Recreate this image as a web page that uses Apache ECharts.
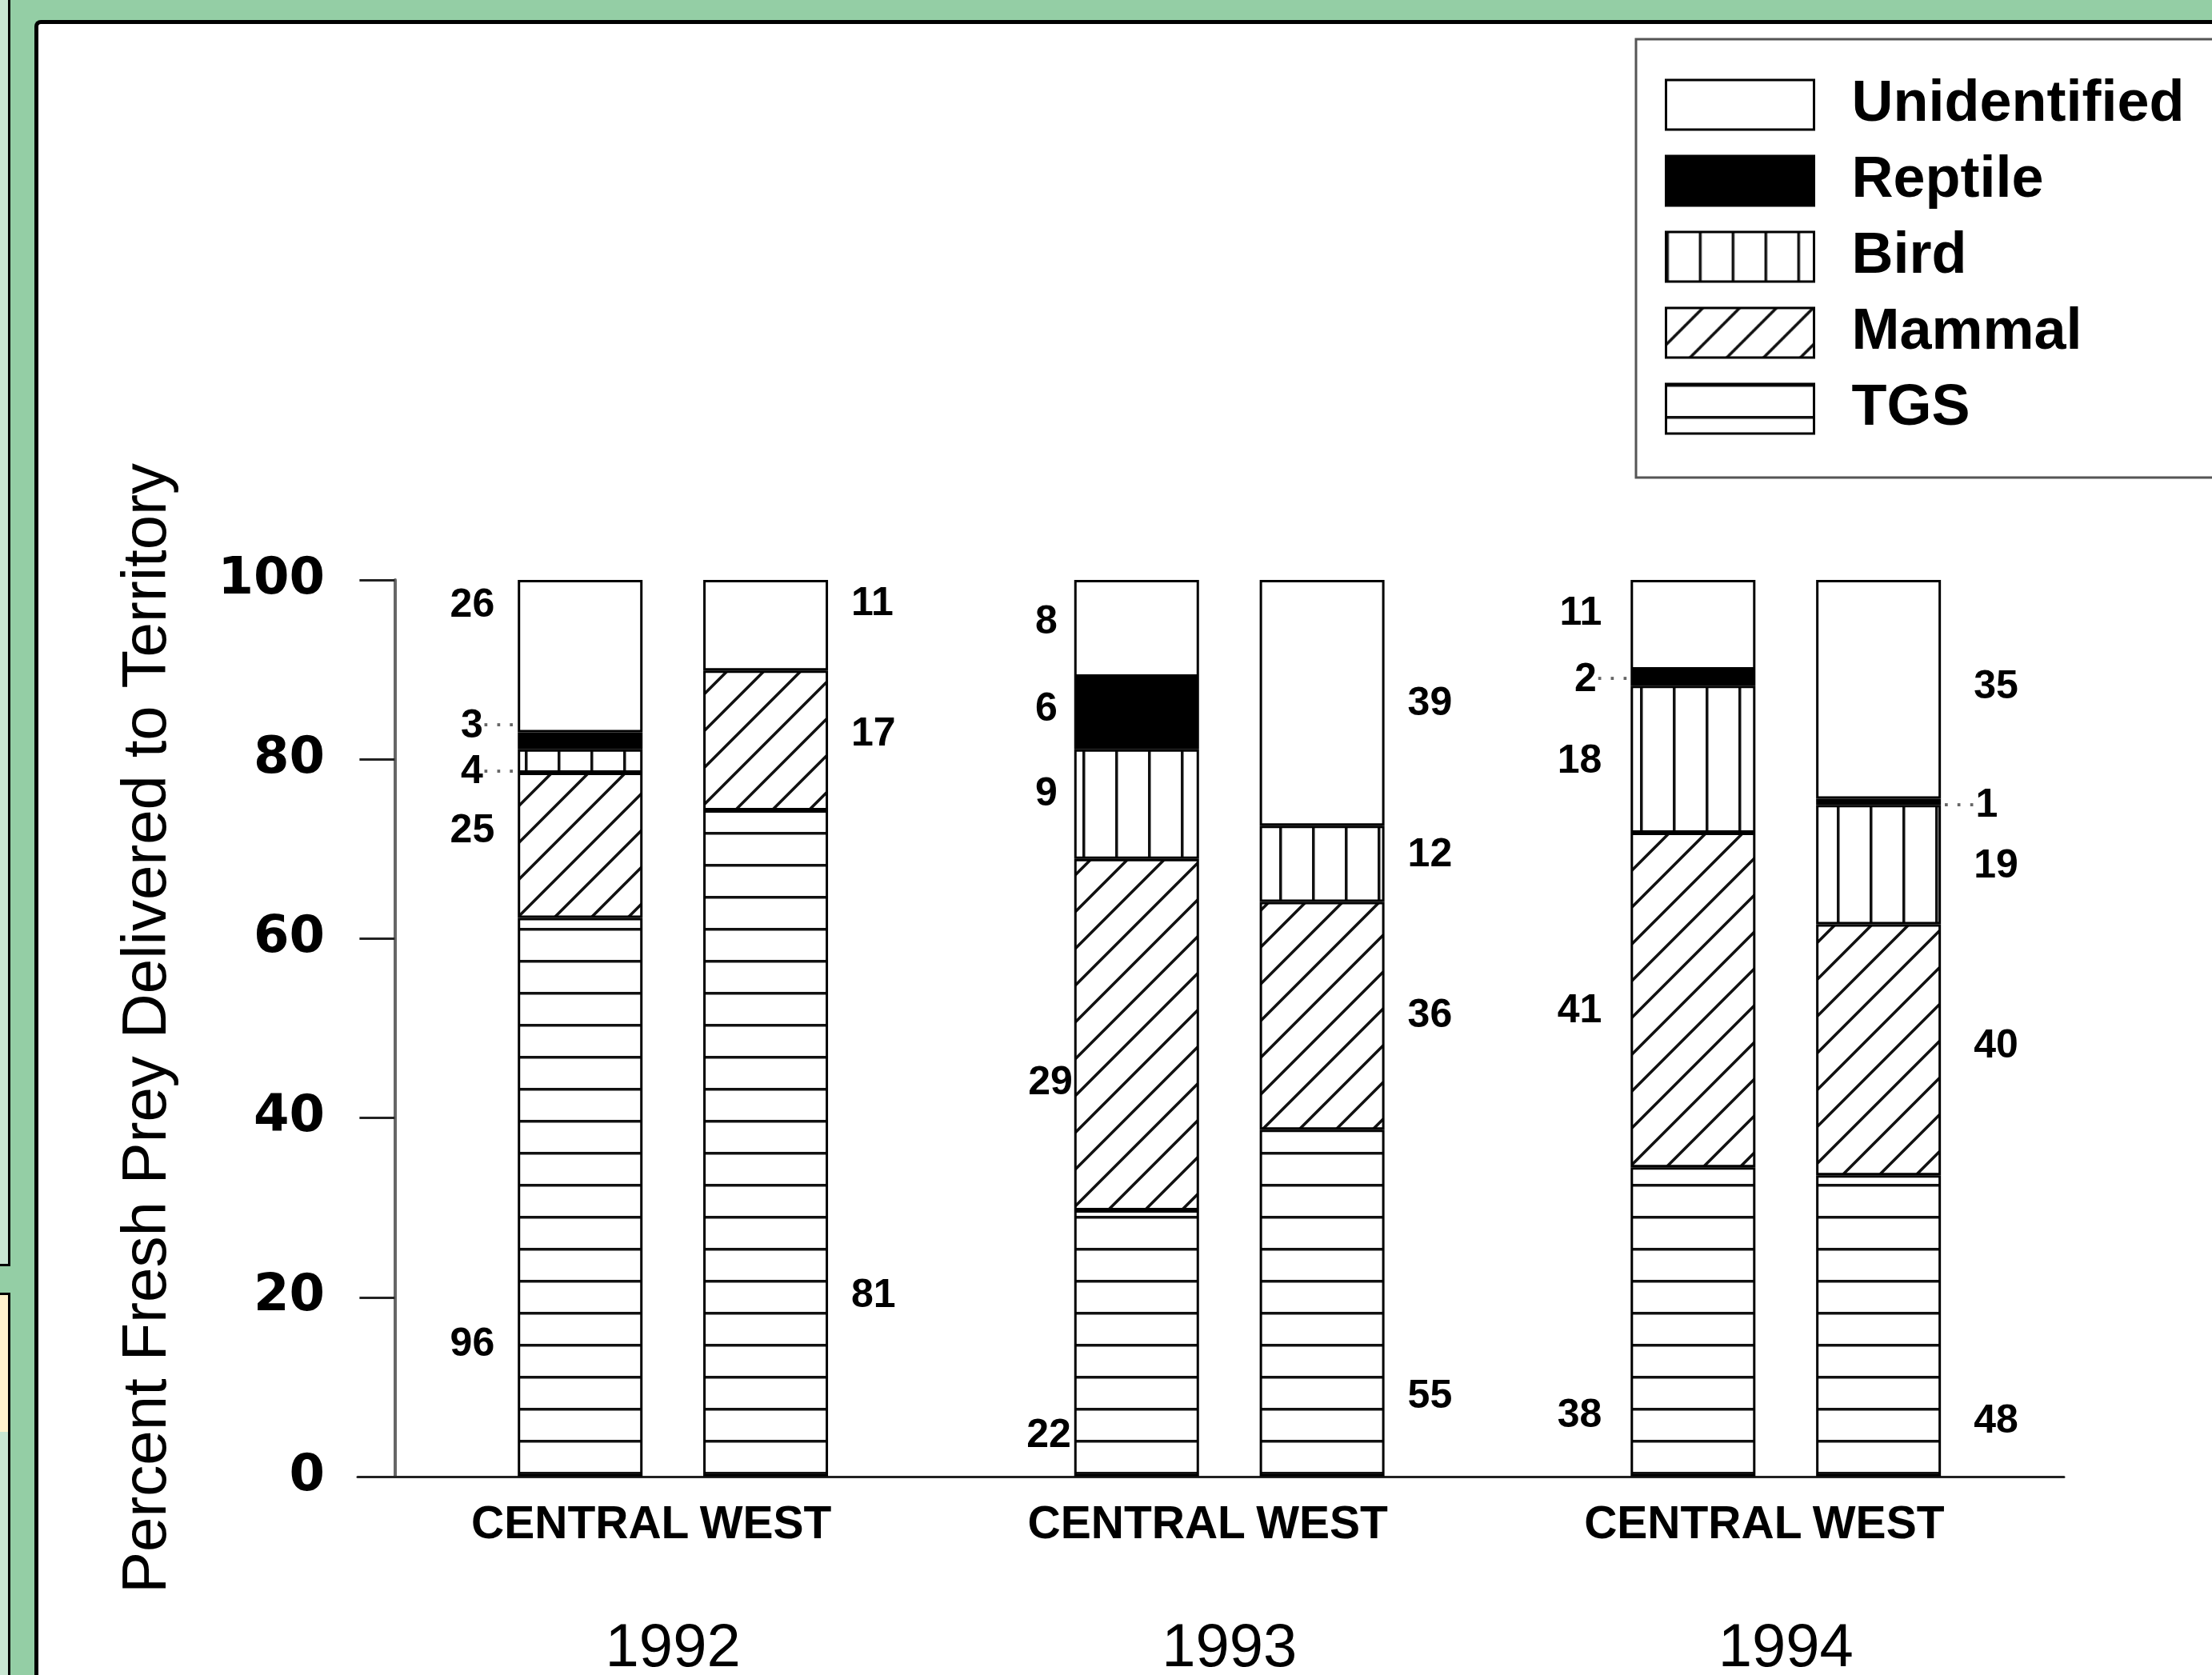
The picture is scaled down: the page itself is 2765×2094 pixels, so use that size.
<!DOCTYPE html>
<html>
<head>
<meta charset="utf-8">
<script src="https://cdn.jsdelivr.net/npm/echarts@6/dist/echarts.min.js"></script>
<style>
html,body{margin:0;padding:0;width:2765px;height:2094px;overflow:hidden;background:#94cea5;}
#lp1{position:absolute;left:0;top:0;width:10px;height:1580px;background:#c8e6d2;border-right:3px solid #000;border-bottom:3px solid #000;}
#yb{position:absolute;left:0;top:1616px;width:10px;height:171px;background:#fff2cc;border:3px solid #000;border-left:none;}
#lp2{position:absolute;left:0;top:1790px;width:10px;height:304px;background:#c8e6d2;border-right:3px solid #000;}
#panel{position:absolute;left:43px;top:25px;right:0;bottom:0;background:#fff;border-top:5px solid #000;border-left:5px solid #000;border-top-left-radius:8px;}
#chart{position:absolute;left:0;top:0;width:2765px;height:2094px;}
</style>
</head>
<body>
<div id="lp1"></div><div id="yb"></div><div id="lp2"></div>
<div id="panel"></div>
<div id="chart"></div>
<script>
// ---------- data ----------
const years = ['1992', '1993', '1994'];
const sites = ['CENTRAL', 'WEST'];
const preyTypes = ['TGS', 'Mammal', 'Bird', 'Reptile', 'Unidentified']; // stack order, bottom -> top
const legendOrder = ['Unidentified', 'Reptile', 'Bird', 'Mammal', 'TGS'];
const yTicks = [0, 20, 40, 60, 80, 100];
const yAxisTitle = 'Percent Fresh Prey Delivered to Territory';

// percent of fresh prey, bars in order: 1992 C, 1992 W, 1993 C, 1993 W, 1994 C, 1994 W
const pctTGS          = [62.3, 74.3, 29.7, 38.7, 34.5, 33.6];
const pctMammal       = [16.2, 15.6, 39.2, 25.4, 37.3, 28.0];
const pctBird         = [2.6, null, 12.2, 8.5, 16.4, 13.3];
const pctReptile      = [1.9, null, 8.1, null, 1.8, 0.7];
const pctUnidentified = [17.0, 10.1, 10.8, 27.4, 10.0, 24.4];

// number of prey items (printed beside the bars)
const nTGS          = [96, 81, 22, 55, 38, 48];
const nMammal       = [25, 17, 29, 36, 41, 40];
const nBird         = [4, null, 9, 12, 18, 19];
const nReptile      = [3, null, 6, null, 2, 1];
const nUnidentified = [26, 11, 8, 39, 11, 35];

// ---------- styling (not data) ----------
const FONT = "'Liberation Sans', Arial, sans-serif";
const labelShift = {
  TGS:          [[0,184],[0,191],[25,116],[0,117],[-7,118],[12,120]],
  Mammal:       [[0,-18],[0,-7],[27,61],[0,0],[-7,14],[12,-4]],
  Bird:         [[26,14],[0,0],[8,-12],[0,-11],[-7,3],[12,2]],
  Reptile:      [[26,-18],[0,0],[8,-4],[0,0],[27,3],[-26,5]],
  Unidentified: [[0,-63],[0,-26],[8,-7],[0,2],[-7,-14],[12,-3]]
};
const leaderDots = {
  Bird:    [true, false, false, false, false, false],
  Reptile: [true, false, false, false, true, true]
};

function makePattern(kind) {
  const c = document.createElement('canvas');
  const ctx = c.getContext('2d');
  if (kind === 'h') {
    c.width = 20; c.height = 40;
    ctx.fillStyle = '#fff'; ctx.fillRect(0, 0, 20, 40);
    ctx.fillStyle = '#111'; ctx.fillRect(0, 0, 20, 3.5);
  } else if (kind === 'v') {
    c.width = 41; c.height = 20;
    ctx.fillStyle = '#fff'; ctx.fillRect(0, 0, 41, 20);
    ctx.fillStyle = '#111'; ctx.fillRect(0, 0, 3.5, 20);
  } else {
    const s = 46;
    c.width = s; c.height = s;
    ctx.fillStyle = '#fff'; ctx.fillRect(0, 0, s, s);
    ctx.strokeStyle = '#111'; ctx.lineWidth = 3.6;
    ctx.beginPath();
    ctx.moveTo(0, s); ctx.lineTo(s, 0);
    ctx.moveTo(-3, 3); ctx.lineTo(3, -3);
    ctx.moveTo(s - 3, s + 3); ctx.lineTo(s + 3, s - 3);
    ctx.stroke();
  }
  return { image: c, repeat: 'repeat' };
}

const pct = { TGS: pctTGS, Mammal: pctMammal, Bird: pctBird, Reptile: pctReptile, Unidentified: pctUnidentified };
const cnt = { TGS: nTGS, Mammal: nMammal, Bird: nBird, Reptile: nReptile, Unidentified: nUnidentified };
const fills = { TGS: makePattern('h'), Mammal: makePattern('d'), Bird: makePattern('v'), Reptile: '#000', Unidentified: '#fff' };

// bar slot on the x axis: year i, site j -> 3*i + j + 1 (blank slot between years)
const barPos = [];
years.forEach((y, i) => sites.forEach((s, j) => barPos.push(3 * i + j + 1)));
const yearPos = years.map((y, i) => 3 * i + 1.5);

const series = preyTypes.map(name => ({
  name: name,
  type: 'bar',
  stack: 'total',
  barWidth: 156,
  encode: { x: 1, y: 0 },
  itemStyle: { color: fills[name], borderColor: '#000', borderWidth: 3 },
  emphasis: { disabled: true },
  label: {
    rich: {
      n: { fontSize: 50, fontWeight: 'bold', fontFamily: FONT, color: '#000' },
      d: { fontSize: 26, fontWeight: 'bold', fontFamily: FONT, color: '#666' }
    }
  },
  data: pct[name].map((v, k) => {
    const j = k % 2;
    const n = cnt[name][k];
    const dots = leaderDots[name] && leaderDots[name][k];
    let fmt = '{n|' + n + '}';
    if (dots) fmt = j === 0 ? '{n|' + n + '}{d|· · ·}' : '{d|· · ·}{n|' + n + '}';
    return {
      value: [v == null ? '-' : v, barPos[k]],
      label: {
        show: n != null,
        position: j === 0 ? 'left' : 'right',
        distance: 29,
        offset: labelShift[name][k],
        formatter: fmt
      }
    };
  })
}));

const chart = echarts.init(document.getElementById('chart'), null, { renderer: 'canvas' });
chart.setOption({
  animation: false,
  backgroundColor: 'transparent',
  grid: { left: 447, right: 185, top: 725, bottom: 248, containLabel: false, outerBoundsMode: 'none' },
  legend: {
    orient: 'vertical',
    left: 2045, top: 49,
    padding: [46, 100, 50, 36],
    borderColor: '#555', borderWidth: 3,
    selectedMode: false,
    icon: 'rect',
    itemWidth: 185, itemHeight: 62, itemGap: 23,
    itemStyle: { borderColor: '#000', borderWidth: 3 },
    textStyle: { fontSize: 72, fontWeight: 'bold', fontFamily: FONT, color: '#000', padding: [0, 0, 0, 42] },
    data: legendOrder
  },
  xAxis: [{
    type: 'value', min: -0.2, max: 9,
    axisLine: { show: true, onZero: true, lineStyle: { color: '#222', width: 3 } },
    axisTick: { show: false },
    splitLine: { show: false },
    axisLabel: {
      customValues: barPos,
      formatter: v => sites[Math.round(v - 1) % 3],
      margin: 33, fontSize: 57, fontWeight: 'bold', fontFamily: FONT, color: '#000'
    }
  }, {
    type: 'value', min: -0.2, max: 9, position: 'bottom',
    axisLine: { show: false },
    axisTick: { show: false },
    splitLine: { show: false },
    axisLabel: {
      customValues: yearPos,
      formatter: v => years[Math.floor((v - 1) / 3)],
      margin: 178, fontSize: 76, fontFamily: FONT, color: '#000'
    }
  }],
  yAxis: {
    type: 'value', min: 0, max: 100, interval: 20,
    name: yAxisTitle, nameLocation: 'middle', nameGap: 223, nameRotate: 90,
    nameTextStyle: { fontSize: 78, fontFamily: FONT, color: '#000' },
    axisLine: { show: true, onZero: true, lineStyle: { color: '#666', width: 4 } },
    axisTick: { show: true, inside: false, length: 44, customValues: yTicks, lineStyle: { color: '#222', width: 3 } },
    axisLabel: { customValues: yTicks, margin: 41, fontSize: 64, fontWeight: 'bold', fontFamily: "'DejaVu Sans', sans-serif", color: '#000' },
    splitLine: { show: false }
  },
  series: series
});
</script>
</body>
</html>
